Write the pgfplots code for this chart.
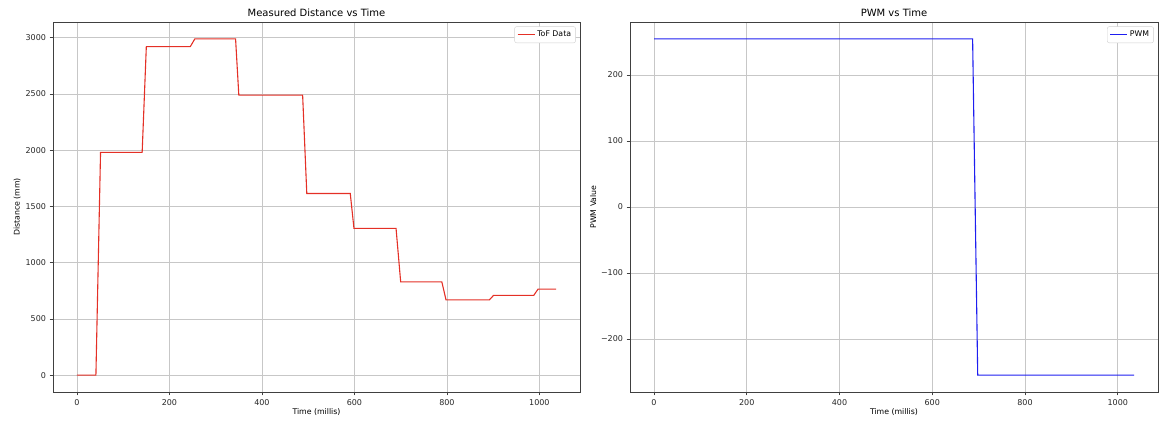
\documentclass[border=0pt]{standalone}
\usepackage{pgfplots}
\pgfplotsset{compat=1.18}
\usepackage{fontspec}
\setmainfont{DejaVu Sans}
\definecolor{tofred}{RGB}{228,48,38}
\definecolor{pwmblue}{RGB}{30,30,240}
\pgfplotsset{
  base/.style={
    scale only axis,
    width=527pt, height=370pt,
    /pgf/number format/assume math mode=true,
    /pgf/number format/1000 sep={},
    tick label style={font=\fontsize{8}{9}\selectfont, text=black!85},
    label style={font=\fontsize{7.8}{9}\selectfont},
    title style={font=\fontsize{10}{11}\selectfont, at={(0.5,1)}, anchor=south, yshift=-4.5pt},
    grid=major,
    grid style={draw=black!22, line width=0.7pt},
    axis line style={draw=black!75, line width=0.8pt},
    tick align=outside,
    xtick pos=left, ytick pos=left,
    major tick length=3.5pt,
    tick style={draw=black!75, line width=0.7pt},
    xtick={0,200,400,600,800,1000},
    x tick label style={yshift=-1pt},
    xlabel style={yshift=4pt},
    legend style={at={(0.992,0.988)}, anchor=north east, font=\fontsize{7.8}{9}\selectfont,
      draw=black!18, rounded corners=2pt, inner sep=2.5pt, row sep=0pt},
    legend cell align=left,
    legend image post style={line width=1.1pt},
  }
}
\begin{document}
\begin{tikzpicture}[x=1pt,y=1pt]
\path (0,0) rectangle (1174,427);
\begin{axis}[base, at={(53pt,35pt)}, anchor=south west,
  xmin=-51.8, xmax=1087.8, ymin=-149.5, ymax=3139.5,
  ytick={0,500,1000,1500,2000,2500,3000},
  title={Measured Distance vs Time},
  xlabel={Time (millis)}, ylabel={Distance (mm)},
  ylabel style={yshift=-2pt}]
\addplot[tofred, line width=1.1pt] coordinates {
(0,0) (41,0) (51,1980) (141,1980) (150,2920) (245,2920) (255,2990) (343,2990)
(350,2490) (488,2490) (497,1615) (591,1615) (599,1305) (690,1305) (700,830)
(789,830) (798,670) (892,670) (901,710) (988,710) (997,765) (1036,765)};
\addlegendentry{ToF Data}
\end{axis}
\begin{axis}[base, at={(630pt,35pt)}, anchor=south west, width=528pt,
  xmin=-51.75, xmax=1086.75, ymin=-280.5, ymax=280.5,
  ytick={-200,-100,0,100,200},
  yticklabels={−200,−100,0,100,200},
  title={PWM vs Time},
  xlabel={Time (millis)}, ylabel={PWM Value},
  ylabel style={yshift=-2pt}]
\addplot[pwmblue, line width=1.1pt] coordinates {
(0,255) (687,255) (698,-255) (1035,-255)};
\addlegendentry{PWM}
\end{axis}
\end{tikzpicture}
\end{document}
